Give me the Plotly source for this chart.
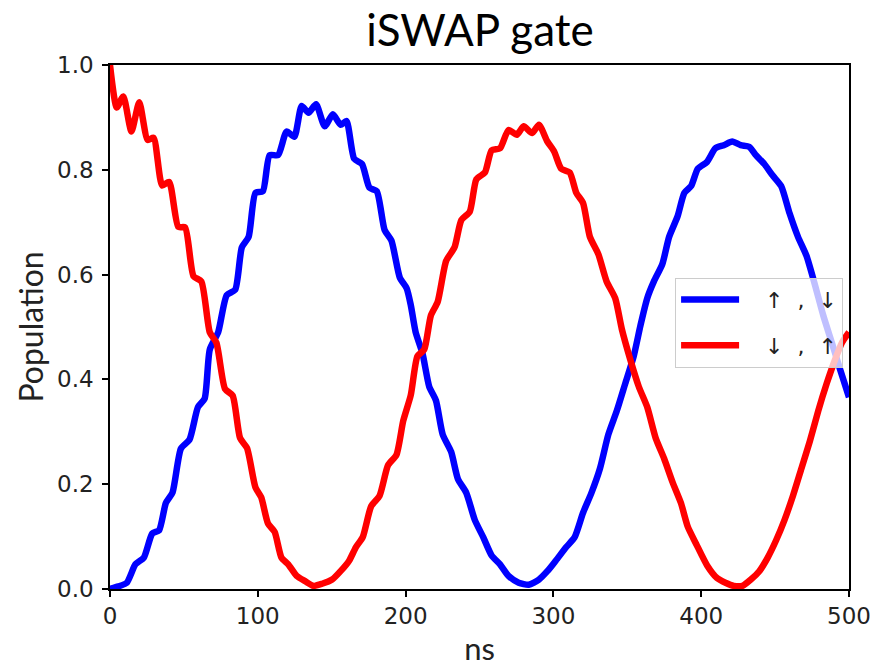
import plotly.graph_objects as go

# ---- data ----
t_up_down = [0, 5.7, 11.4, 17.2, 22.9, 28.6, 33.2, 37.8, 42.3, 48, 53.8, 59.5, 64, 67.5,
             73.2, 79, 84.7, 89.2, 93.8, 98.4, 103.4, 108, 113.7, 119.5, 124.7, 129.7,
             134.3, 139.4, 145.3, 150.8, 156, 160, 165.2, 170.5, 175.5, 180.5, 185.8,
             190.4, 196.1, 200.7, 203.5, 206.8, 211.4, 216, 220.5, 225.1, 230.8, 235.4,
             241, 246.8, 252.5, 258.2, 263.9, 269.6, 276.5, 283.3, 290.2, 295.9, 301.6,
             308.7, 314.4, 320, 325.8, 331.5, 337.2, 342.9, 348.6, 354.3, 358.9, 363.5,
             368, 373.7, 378.3, 384, 388.6, 393.2, 397.7, 403.9, 409.6, 415.3, 421,
             426.7, 432.4, 437, 442.7, 448.4, 454.1, 459.8, 465.5, 471.2, 476.9, 482.6,
             488.4, 494.1, 500]
p_up_down = [0.0, 0.005, 0.012, 0.047, 0.06, 0.106, 0.112, 0.164, 0.184, 0.268, 0.285,
             0.347, 0.363, 0.457, 0.49, 0.561, 0.571, 0.652, 0.672, 0.756, 0.759, 0.828,
             0.828, 0.873, 0.863, 0.922, 0.909, 0.925, 0.883, 0.906, 0.886, 0.893, 0.821,
             0.811, 0.766, 0.759, 0.685, 0.665, 0.594, 0.574, 0.542, 0.49, 0.45, 0.386,
             0.36, 0.295, 0.262, 0.21, 0.184, 0.132, 0.099, 0.064, 0.047, 0.025, 0.012,
             0.008, 0.018, 0.034, 0.054, 0.08, 0.099, 0.145, 0.184, 0.23, 0.295, 0.34,
             0.392, 0.444, 0.503, 0.555, 0.587, 0.62, 0.672, 0.711, 0.756, 0.769, 0.802,
             0.815, 0.841, 0.847, 0.854, 0.847, 0.844, 0.828, 0.811, 0.789, 0.769, 0.717,
             0.672, 0.636, 0.581, 0.522, 0.47, 0.418, 0.366]

t_down_up = [0, 4.6, 9, 14.5, 19.8, 25.5, 29.5, 35.3, 40, 46.2, 50.8, 56.5, 61.8, 67.5,
             72, 77.8, 83, 88, 92.7, 98.4, 102.3, 106.9, 111.4, 116, 120.6, 126.3, 132,
             137.8, 143.5, 150.3, 156, 161.8, 166.4, 171, 176.7, 182.4, 188.1, 193.8,
             198.4, 203.5, 208, 212.6, 217.1, 221.7, 227.4, 233.1, 237.7, 243.4, 247.9,
             253.7, 258.2, 263.9, 269.6, 275.3, 279.9, 285.6, 290.2, 295.9, 300.5, 305.3,
             311, 315.5, 320, 324.7, 330.4, 336, 341.8, 346.3, 352, 357.8, 363.5, 369.2,
             374.9, 380.6, 386.3, 390.9, 396.6, 404, 410.7, 416.4, 422.1, 427.9, 433.6,
             439.3, 445, 450.7, 456.4, 462.1, 467.8, 473.5, 479.2, 484.9, 490.6, 495.2, 500]
p_down_up = [1.0, 0.919, 0.94, 0.873, 0.929, 0.857, 0.861, 0.77, 0.777, 0.691, 0.69,
             0.597, 0.587, 0.49, 0.47, 0.382, 0.369, 0.288, 0.269, 0.194, 0.175, 0.125,
             0.109, 0.06, 0.047, 0.025, 0.015, 0.006, 0.01, 0.018, 0.034, 0.054, 0.08,
             0.099, 0.158, 0.178, 0.236, 0.256, 0.321, 0.37, 0.444, 0.457, 0.522, 0.548,
             0.626, 0.652, 0.704, 0.72, 0.782, 0.795, 0.837, 0.841, 0.876, 0.867, 0.883,
             0.87, 0.886, 0.854, 0.835, 0.802, 0.795, 0.756, 0.737, 0.672, 0.639, 0.587,
             0.555, 0.496, 0.438, 0.386, 0.347, 0.288, 0.249, 0.204, 0.164, 0.119, 0.086,
             0.045, 0.021, 0.012, 0.006, 0.006, 0.018, 0.034, 0.06, 0.093, 0.132, 0.178,
             0.23, 0.282, 0.34, 0.392, 0.438, 0.47, 0.49]

NB = "\u00a0"
series_names = [NB * 3 + "\u2191" + NB * 2 + "," + NB * 2 + "\u2193",
                NB * 3 + "\u2193" + NB * 2 + "," + NB * 2 + "\u2191"]
series_colors = ["#0000ff", "#ff0000"]
x_ticks = [0, 100, 200, 300, 400, 500]
y_ticks = [0.0, 0.2, 0.4, 0.6, 0.8, 1.0]

fig = go.Figure()
for i, (tx, py) in enumerate([(t_up_down, p_up_down), (t_down_up, p_down_up)]):
    fig.add_trace(go.Scatter(
        x=tx, y=py, mode="lines", name=series_names[i],
        line=dict(color=series_colors[i], width=6.5, shape="spline", smoothing=0.6),
        legendgroup=f"g{i}",
    ))

axis_common = dict(
    showgrid=False, zeroline=False, showline=True, linecolor="black", linewidth=1.5,
    mirror=True, ticks="outside", ticklen=6, tickwidth=1.5, tickcolor="black",
    tickfont=dict(family="DejaVu Sans", size=23, color="#222"),
)

fig.update_layout(
    width=871, height=667,
    paper_bgcolor="white", plot_bgcolor="white",
    margin=dict(l=110, r=22, t=65, b=78, autoexpand=False),
    title=dict(text="iSWAP gate", x=480 / 871, xanchor="center",
               y=1 - 31 / 667, yanchor="middle",
               yref="container", font=dict(family="Lato", size=44, color="black")),
    xaxis=dict(range=[0, 500], tickvals=x_ticks, ticktext=[str(v) for v in x_ticks],
               title=dict(text="ns", font=dict(family="Lato", size=31, color="#222"), standoff=15),
               **axis_common),
    yaxis=dict(range=[0, 1], tickvals=y_ticks, ticktext=[f"{v:.1f}" for v in y_ticks],
               ticklabelstandoff=4,
               title=dict(text="Population", font=dict(family="Lato", size=32, color="#222"), standoff=4),
               **axis_common),
    legend=dict(x=0.992, xanchor="right", y=0.594, yanchor="top",
                bgcolor="rgba(255,255,255,0.75)", bordercolor="#cccccc", borderwidth=1,
                font=dict(family="DejaVu Sans", size=22, color="#222"),
                tracegroupgap=14, traceorder="grouped", itemwidth=58),
    showlegend=True,
)

fig.write_html(
    "out.html",
    config={"displayModeBar": False},
    post_script="document.body.style.margin='0';document.body.style.overflow='hidden';",
)
